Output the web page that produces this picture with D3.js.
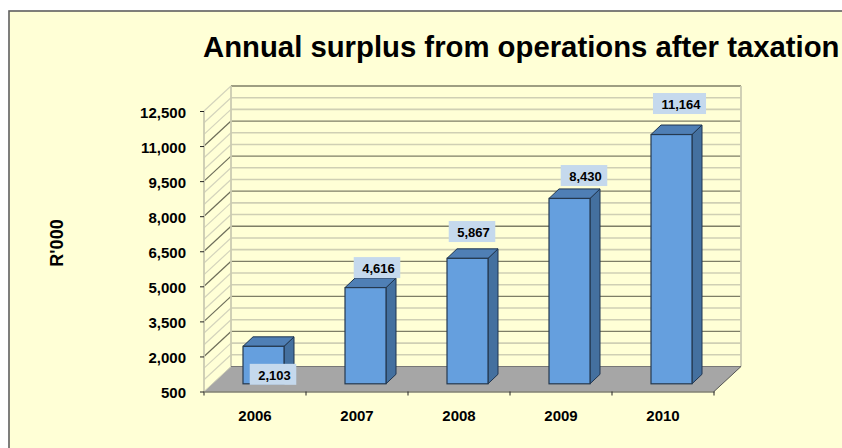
<!DOCTYPE html>
<html><head><meta charset="utf-8">
<script src="https://cdn.jsdelivr.net/npm/d3@7/dist/d3.min.js"></script>
<style>html,body{margin:0;background:#fff;overflow:hidden}svg{display:block}text{font-family:"Liberation Sans",Arial,sans-serif;font-weight:bold;fill:#000}</style>
</head><body><svg id="c" width="842" height="448"></svg>
<script>
const years = ["2006","2007","2008","2009","2010"];
const surplus = [2103,4616,5867,8430,11164];
const yDomain = [500,12500];

const svg = d3.select("#c");
svg.append("rect").attr("x",9).attr("y",11).attr("width",900).attr("height",500)
  .attr("fill","#ffffd6").attr("stroke","#5f5f5f").attr("stroke-width",1.6);

// 3D box: front plane at x0..x1, wall offset by depth
const x0=204,x1=714,depthX=27,depthY=25;
const y=d3.scaleLinear().domain(yDomain).range([391.5,111]);
const xb=d3.scaleBand().domain(years).range([x0,x1]);

const gridVals=d3.range(500,12501,500);
const isMajor=v=>(v-500)%1500===0;
const grid=svg.append("g");

grid.selectAll(".w").data(gridVals.filter(v=>v>500)).join("line")
  .attr("x1",x0+depthX).attr("x2",x1+depthX)
  .attr("y1",v=>y(v)-depthY).attr("y2",v=>y(v)-depthY)
  .attr("stroke",v=>isMajor(v)?"#7e7e66":"#cfcfb4").attr("stroke-width",v=>isMajor(v)?1.3:1.6);
grid.selectAll(".s").data(gridVals.filter(v=>v>500)).join("line")
  .attr("x1",x0).attr("x2",x0+depthX)
  .attr("y1",v=>y(v)).attr("y2",v=>y(v)-depthY)
  .attr("stroke",v=>isMajor(v)&&v<12500?"#6e6e5a":"#d4d4bc").attr("stroke-width",1.2);
[[x0+depthX,y(500)-depthY,x0+depthX,y(12500)-depthY],[x1+depthX,y(500)-depthY,x1+depthX,y(12500)-depthY],[x0,y(500),x0,y(12500)]]
  .forEach(l=>grid.append("line").attr("x1",l[0]).attr("y1",l[1]).attr("x2",l[2]).attr("y2",l[3]).attr("stroke","#cbcbb2").attr("stroke-width",1.8));

// floor
svg.append("path").attr("d",`M${x0},${y(500)}L${x0+depthX},${y(500)-depthY}L${x1+depthX},${y(500)-depthY}L${x1},${y(500)}Z`).attr("fill","#a6a6a6");
svg.append("line").attr("x1",x0+depthX).attr("x2",x1+depthX).attr("y1",y(500)-depthY).attr("y2",y(500)-depthY).attr("stroke","#777").attr("stroke-width",1);
svg.append("line").attr("x1",x1).attr("y1",y(500)).attr("x2",x1+depthX).attr("y2",y(500)-depthY).attr("stroke","#555").attr("stroke-width",1);
svg.append("line").attr("x1",x0).attr("y1",y(500)).attr("x2",x0+depthX).attr("y2",y(500)-depthY).attr("stroke","#cfcfb6").attr("stroke-width",1);

// axes
const yAxis=d3.axisLeft(y).tickValues(gridVals.filter(isMajor)).tickFormat(d3.format(",")).tickSize(4).tickPadding(14);
const ya=svg.append("g").attr("transform",`translate(${x0},0)`).call(yAxis);
ya.select(".domain").remove();
ya.selectAll("text").attr("font-size",15).attr("y",1.5).style("font-weight","bold");
ya.selectAll("line").attr("stroke","#222");
const xa=svg.append("g").attr("transform",`translate(0,${y(500)})`).call(d3.axisBottom(xb).tickSize(0).tickPadding(19));
xa.select(".domain").attr("stroke","#444");
xa.selectAll("text").attr("font-size",15).style("font-weight","bold");
xa.selectAll(".sep").data(d3.range(0,6)).join("line").attr("class","sep")
  .attr("x1",i=>x0+i*xb.step()).attr("x2",i=>x0+i*xb.step()).attr("y1",0).attr("y2",4).attr("stroke","#222");

// bars: side, top and front faces
const bw=41,bd=[10,9.5],off=[8.5,7.7];
const rows=years.map((k,i)=>({k,v:surplus[i],i}));
const bars=svg.append("g").selectAll("g").data(rows).join("g");
const bx=d=>xb(d.k)+(xb.step()-bw)/2+off[0];
const by=d=>y(d.v)-off[1], bb=()=>y(500)-off[1];
bars.append("path").attr("d",d=>`M${bx(d)+bw},${by(d)}l${bd[0]},${-bd[1]}L${bx(d)+bw+bd[0]},${bb()-bd[1]}L${bx(d)+bw},${bb()}Z`)
  .attr("fill","#44709f").attr("stroke","#1f3550").attr("stroke-width",1);
bars.append("path").attr("d",d=>`M${bx(d)},${by(d)}l${bd[0]},${-bd[1]}h${bw}l${-bd[0]},${bd[1]}Z`)
  .attr("fill","#4f7fb5").attr("stroke","#1f3550").attr("stroke-width",1);
bars.append("rect").attr("x",bx).attr("y",by).attr("width",bw).attr("height",d=>bb()-by(d))
  .attr("fill","#659fde").attr("stroke","#25394f").attr("stroke-width",1.2);

// value labels on pale blue plates, nudged individually off their bars
const nudges=[[9.5,28],[11.5,-20],[4.5,-26.8],[14.5,-22.9],[8,-31]];
const lcx=d=>bx(d)+bw/2+nudges[d.i][0];
const lcy=d=>by(d)+nudges[d.i][1];
const fmt=d3.format(",");
const lab=svg.append("g").selectAll("g").data(rows).join("g");
const tx=lab.append("text").attr("x",d=>lcx(d)+1.5).attr("y",d=>lcy(d)+5.5).attr("text-anchor","middle").attr("font-size",13).text(d=>fmt(d.v));
tx.each(function(d){d.w=this.getComputedTextLength();});
lab.insert("rect","text").attr("x",d=>lcx(d)-(d.w+14)/2).attr("y",d=>lcy(d)-10.5).attr("width",d=>d.w+14).attr("height",21).attr("fill","#c5d9ed");

svg.append("text").attr("x",203).attr("y",57).attr("font-size",29.3).text("Annual surplus from operations after taxation");
svg.append("text").attr("transform","translate(63,243) rotate(-90)").attr("text-anchor","middle").attr("font-size",18).text("R'000");
</script></body></html>
